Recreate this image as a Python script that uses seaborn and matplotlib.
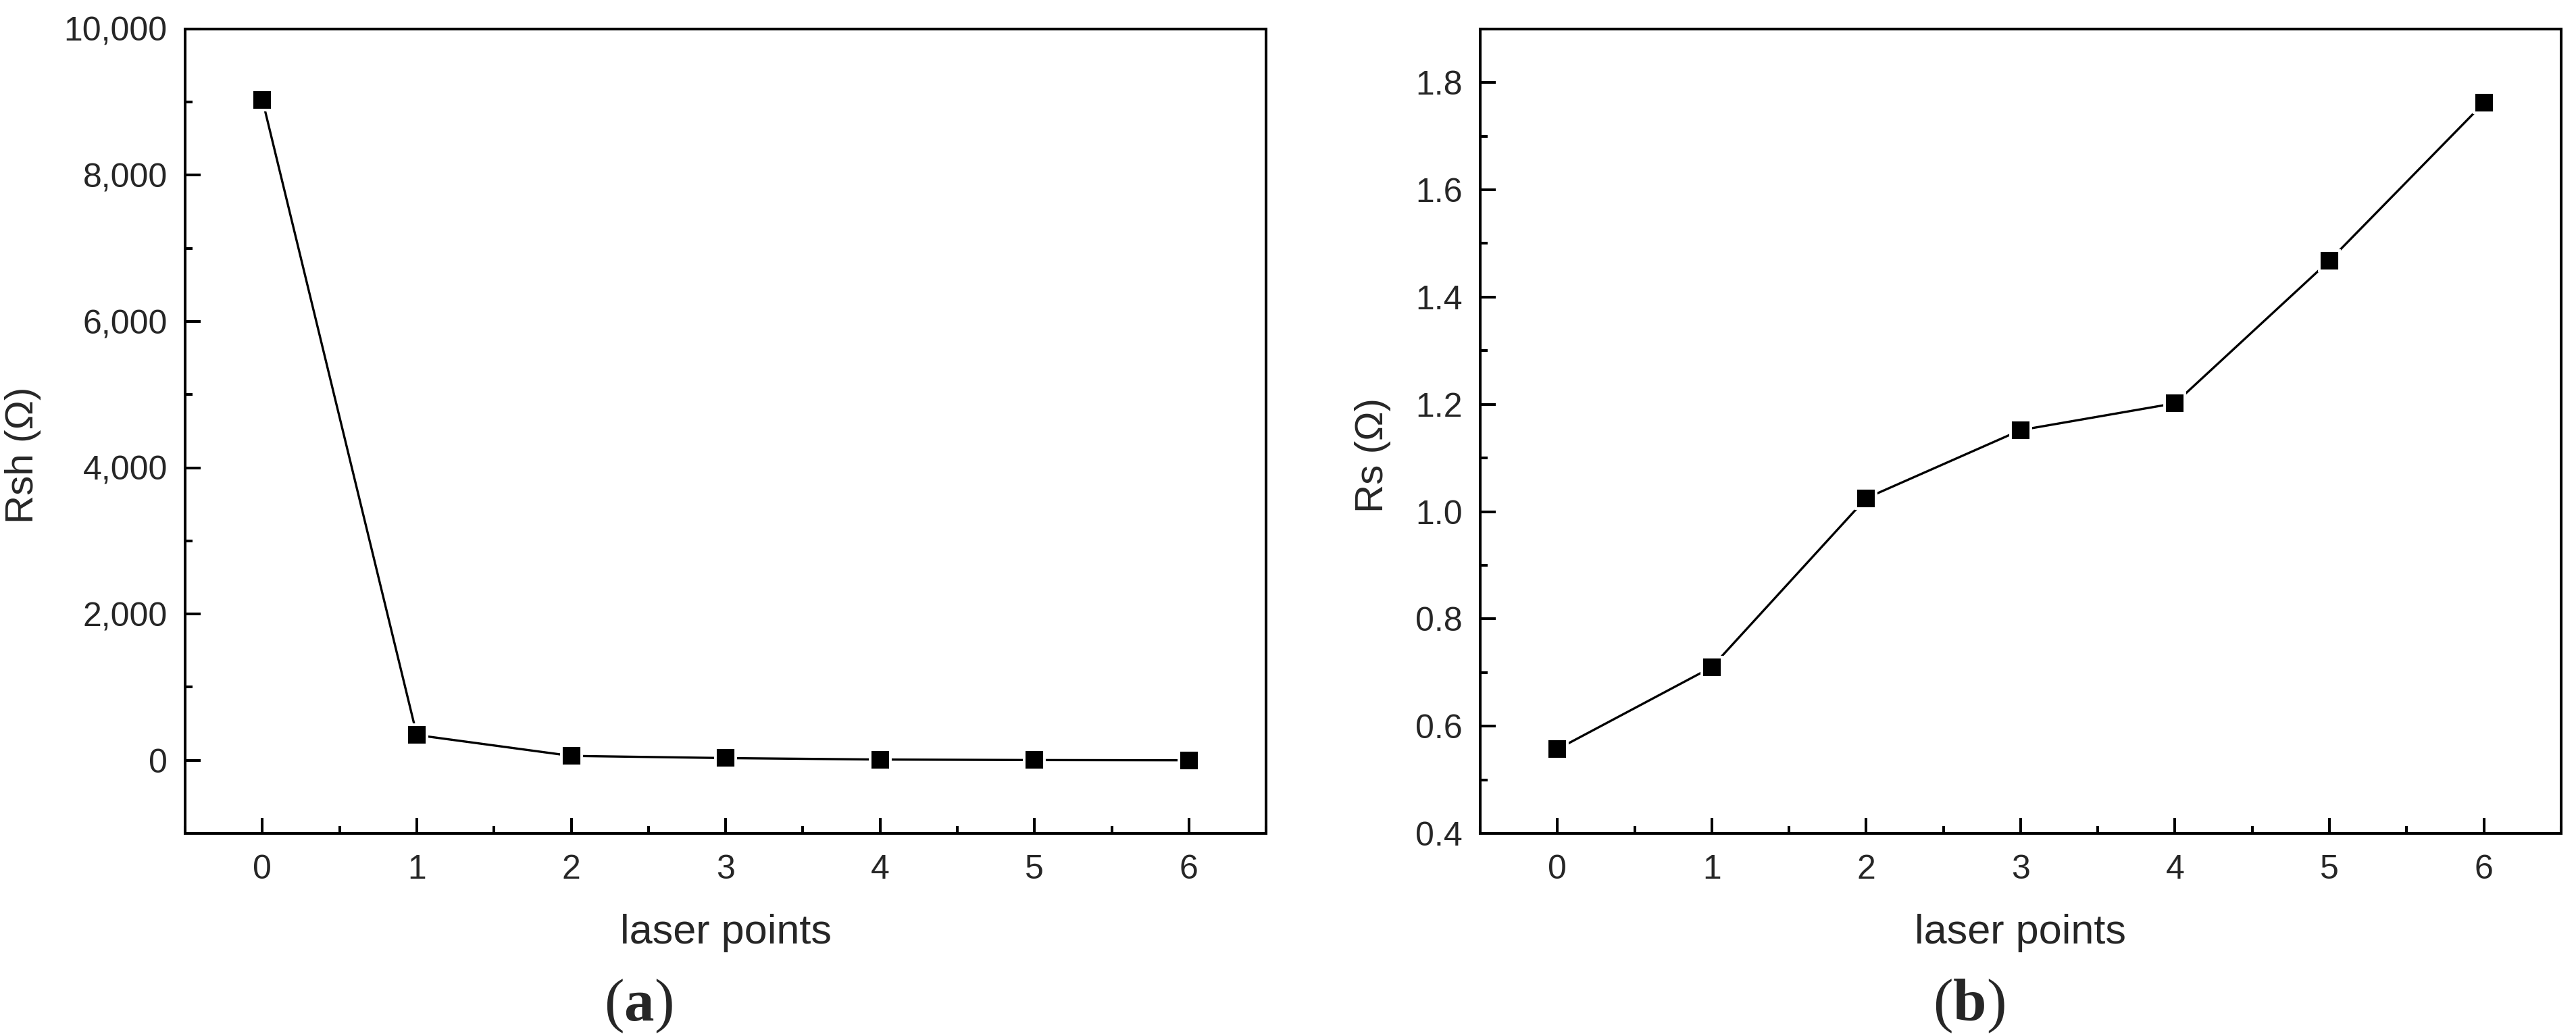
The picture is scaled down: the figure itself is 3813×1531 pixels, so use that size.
import numpy as np
import pandas as pd
import seaborn as sns
import matplotlib.pyplot as plt
from matplotlib.ticker import MultipleLocator, StrMethodFormatter

# values
laser_points = [0, 1, 2, 3, 4, 5, 6]
rsh_ohm = [9030, 345, 60, 30, 10, 3, 0]
rs_ohm = [0.557, 0.710, 1.025, 1.152, 1.202, 1.468, 1.762]

sns.set_style("ticks")
plt.rcParams["font.family"] = ["Liberation Sans", "DejaVu Sans"]
plt.rcParams["mathtext.fontset"] = "custom"
plt.rcParams["mathtext.bf"] = "Liberation Serif:bold"
plt.rcParams["mathtext.rm"] = "Liberation Serif"

df = pd.DataFrame({"laser points": laser_points, "Rsh": rsh_ohm, "Rs": rs_ohm})

fig = plt.figure(figsize=(19.065, 7.655), dpi=200)
ax1 = fig.add_axes([0.0719, 0.194, 0.4196, 0.778])
ax2 = fig.add_axes([0.5746, 0.194, 0.4196, 0.778])

line_kw = dict(color="black", linewidth=1.2, marker="s", markersize=10.8,
               markerfacecolor="black", markeredgecolor="white",
               markeredgewidth=1.4)

sns.lineplot(data=df, x="laser points", y="Rsh", ax=ax1, **line_kw)
sns.lineplot(data=df, x="laser points", y="Rs", ax=ax2, **line_kw)

for ax in (ax1, ax2):
    ax.set_xlim(-0.5, 6.5)
    ax.xaxis.set_major_locator(MultipleLocator(1))
    ax.xaxis.set_minor_locator(MultipleLocator(0.5))
    for s in ax.spines.values():
        s.set_linewidth(1.45)
        s.set_color("black")
    ax.tick_params(which="both", direction="in", width=1.45, color="black",
                   top=False, right=False)
    ax.tick_params(which="major", length=8.3, labelsize=18)
    ax.tick_params(which="minor", length=4)
    ax.tick_params(axis="x", pad=11)
    ax.tick_params(axis="y", pad=9.5)
    ax.set_xlabel("laser points", fontsize=22)
    ax.xaxis.set_label_coords(0.5, -0.10)

ax1.set_ylim(-1000, 10000)
ax1.yaxis.set_major_locator(MultipleLocator(2000))
ax1.yaxis.set_minor_locator(MultipleLocator(1000))
ax1.yaxis.set_major_formatter(StrMethodFormatter("{x:,.0f}"))
ax1.set_ylabel("Rsh (Ω)", fontsize=21)
ax1.yaxis.set_label_coords(-0.133, 0.47)

ax2.set_ylim(0.4, 1.9)
ax2.yaxis.set_major_locator(MultipleLocator(0.2))
ax2.yaxis.set_minor_locator(MultipleLocator(0.1))
ax2.yaxis.set_major_formatter(StrMethodFormatter("{x:.1f}"))
ax2.set_ylabel("Rs (Ω)", fontsize=21)
ax2.yaxis.set_label_coords(-0.0825, 0.47)

fig.text(945 / 3813, 0.027, r"($\mathbf{a}$)", fontsize=32, ha="center",
         va="center", family="Liberation Serif")
fig.text(2914 / 3813, 0.027, r"($\mathbf{b}$)", fontsize=32, ha="center",
         va="center", family="Liberation Serif")

fig.savefig("out.png", dpi=200, facecolor="white")
